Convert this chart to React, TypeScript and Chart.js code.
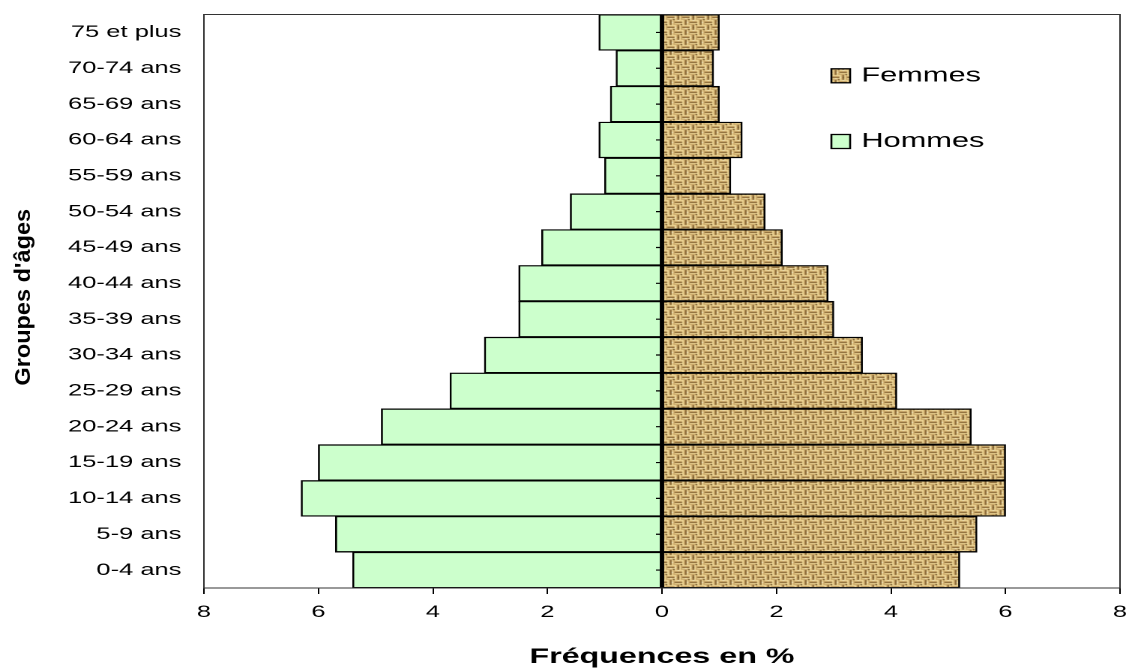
import { useEffect, useRef } from 'react';
import { Chart, registerables } from 'chart.js';

Chart.register(...registerables);

// ---- data ----
const ageGroups = [
  '0-4 ans', '5-9 ans', '10-14 ans', '15-19 ans', '20-24 ans', '25-29 ans',
  '30-34 ans', '35-39 ans', '40-44 ans', '45-49 ans', '50-54 ans', '55-59 ans',
  '60-64 ans', '65-69 ans', '70-74 ans', '75 et plus',
];
const hommes = [5.4, 5.7, 6.3, 6.0, 4.9, 3.7, 3.1, 2.5, 2.5, 2.1, 1.6, 1.0, 1.1, 0.9, 0.8, 1.1];
const femmes = [5.2, 5.5, 6.0, 6.0, 5.4, 4.1, 3.5, 3.0, 2.9, 2.1, 1.8, 1.2, 1.4, 1.0, 0.9, 1.0];
const seriesLabels = ['Hommes', 'Femmes'];
const xMin = -8;
const xMax = 8;
const xStep = 2;
const xTitle = 'Fréquences en %';
const yTitle = "Groupes d'âges";

// ---- layout ----
const SCREEN_W = 1129;
const SCREEN_H = 670;
const STRETCH = 1.5;
const W = Math.round(SCREEN_W / STRETCH);
const FONT = '"Liberation Sans", Arial, sans-serif';

function makePattern(): CanvasPattern | string {
  const c = document.createElement('canvas');
  c.width = 10;
  c.height = 10;
  const g = c.getContext('2d');
  if (!g) return '#C4A36B';
  const px = (col: string, x: number, y: number, w = 1, h = 1) => {
    g.fillStyle = col;
    g.fillRect(x, y, w, h);
  };
  const light = '#F1DA9A';
  const mid = '#C9A768';
  const dark = '#7E5C2C';
  px('#B08A50', 0, 0, 10, 10);
  // cell A (top-left): horizontal strands
  px(light, 0, 0, 5, 1); px(mid, 0, 1, 5, 1); px(dark, 0, 2, 5, 1);
  px(light, 0, 3, 5, 1); px(mid, 0, 4, 5, 1);
  // cell B (top-right): vertical strands
  px(light, 5, 0, 1, 5); px(mid, 6, 0, 1, 5); px(dark, 7, 0, 1, 5);
  px(light, 8, 0, 1, 5); px(mid, 9, 0, 1, 5);
  // cell C (bottom-left): vertical strands
  px(light, 0, 5, 1, 5); px(mid, 1, 5, 1, 5); px(dark, 2, 5, 1, 5);
  px(light, 3, 5, 1, 5); px(mid, 4, 5, 1, 5);
  // cell D (bottom-right): horizontal strands
  px(light, 5, 5, 5, 1); px(mid, 5, 6, 5, 1); px(dark, 5, 7, 5, 1);
  px(light, 5, 8, 5, 1); px(mid, 5, 9, 5, 1);
  // highlights and dark knots
  px('#FFF5CF', 2, 0); px('#FFF5CF', 8, 2); px('#FFF5CF', 0, 7); px('#FFF5CF', 7, 8);
  px('#4F3514', 4, 4); px('#4F3514', 9, 9); px('#5E4219', 2, 7);
  return g.createPattern(c, 'repeat') || '#C4A36B';
}

const decorPlugin = {
  id: 'decor',
  afterDatasetsDraw(chart: any) {
    const { ctx, chartArea: a, scales } = chart;
    const x0 = scales.x.getPixelForValue(0);
    ctx.save();
    ctx.strokeStyle = '#000';
    ctx.lineWidth = 1.2;
    ctx.beginPath();
    ctx.moveTo(x0, a.top);
    ctx.lineTo(x0, a.bottom);
    ageGroups.forEach((_, i) => {
      const y = scales.y.getPixelForValue(i);
      ctx.moveTo(x0 - 4, y);
      ctx.lineTo(x0, y);
    });
    ctx.stroke();
    ctx.strokeStyle = '#333';
    ctx.lineWidth = 1;
    ctx.strokeRect(a.left, a.top, a.right - a.left, a.bottom - a.top);
    ctx.restore();
  },
  afterDraw(chart: any) {
    const { ctx } = chart;
    ctx.save();
    // legend (Femmes above Hommes)
    const items = [
      { ds: chart.data.datasets[1], y: 75.8 },
      { ds: chart.data.datasets[0], y: 141.5 },
    ];
    ctx.font = `20.5px ${FONT}`;
    ctx.textBaseline = 'middle';
    ctx.textAlign = 'left';
    items.forEach(({ ds, y }) => {
      ctx.fillStyle = ds.backgroundColor;
      ctx.fillRect(554.5, y - 7, 12.5, 14);
      ctx.strokeStyle = '#000';
      ctx.lineWidth = 1.3;
      ctx.strokeRect(554.5, y - 7, 12.5, 14);
      ctx.fillStyle = '#000';
      ctx.fillText(ds.label, 574.5, y);
    });
    // y axis title, rotated
    const a = chart.chartArea;
    ctx.translate(16, (a.top + a.bottom) / 2 - 4);
    ctx.rotate(-Math.PI / 2);
    ctx.scale(1, 0.62);
    ctx.font = `bold 23.5px ${FONT}`;
    ctx.textAlign = 'center';
    ctx.textBaseline = 'middle';
    ctx.fillStyle = '#000';
    ctx.fillText(yTitle, 0, 0);
    ctx.restore();
  },
};

export default function App() {
  const ref = useRef<HTMLCanvasElement>(null);

  useEffect(() => {
    const canvas = ref.current;
    if (!canvas) return;
    const pattern = makePattern();
    Chart.defaults.font.family = FONT;
    Chart.defaults.color = '#000';
    const chart = new Chart(canvas, {
      type: 'bar',
      data: {
        labels: ageGroups,
        datasets: [
          {
            label: seriesLabels[0],
            data: hommes.map((v) => -v),
            backgroundColor: '#CCFFCC',
            borderColor: '#000',
            borderWidth: 1.3,
            borderSkipped: false,
            barPercentage: 1,
            categoryPercentage: 1,
          },
          {
            label: seriesLabels[1],
            data: femmes,
            backgroundColor: pattern as any,
            borderColor: '#000',
            borderWidth: 1.3,
            borderSkipped: false,
            barPercentage: 1,
            categoryPercentage: 1,
          },
        ],
      },
      options: {
        indexAxis: 'y',
        responsive: false,
        devicePixelRatio: 2,
        animation: false,
        layout: { padding: { top: 14.5, right: 6, left: 0, bottom: 0 } },
        plugins: {
          legend: { display: false },
          tooltip: { enabled: false },
        },
        scales: {
          x: {
            stacked: true,
            min: xMin,
            max: xMax,
            ticks: {
              stepSize: xStep,
              callback: (v: any) => String(Math.abs(Number(v))),
              font: { size: 17 },
              color: '#000',
              padding: 8,
              maxRotation: 0,
            },
            grid: {
              display: true,
              drawOnChartArea: false,
              drawTicks: true,
              tickLength: 6,
              color: '#000',
            },
            border: { display: true, color: '#222', width: 1 },
            title: {
              display: true,
              text: xTitle,
              font: { size: 21.5, weight: 'bold' },
              color: '#000',
              padding: { top: 0, bottom: 0 },
            },
            afterFit: (s: any) => {
              s.height = 82;
              s.paddingLeft = 0;
              s.paddingRight = 0;
            },
          },
          y: {
            stacked: true,
            reverse: true,
            grid: { display: false, drawTicks: false },
            border: { display: false },
            ticks: { font: { size: 17 }, color: '#000', padding: 15, autoSkip: false },
            afterFit: (s: any) => {
              s.width = 136;
              s.paddingTop = 0;
              s.paddingBottom = 0;
            },
          },
        },
      } as any,
      plugins: [decorPlugin],
    });
    return () => chart.destroy();
  }, []);

  return (
    <div style={{ position: 'fixed', left: 0, top: 0, width: SCREEN_W, height: SCREEN_H, background: '#fff' }}>
      <canvas
        ref={ref}
        width={W}
        height={SCREEN_H}
        style={{ width: SCREEN_W + 'px', height: SCREEN_H + 'px', display: 'block' }}
      />
    </div>
  );
}
